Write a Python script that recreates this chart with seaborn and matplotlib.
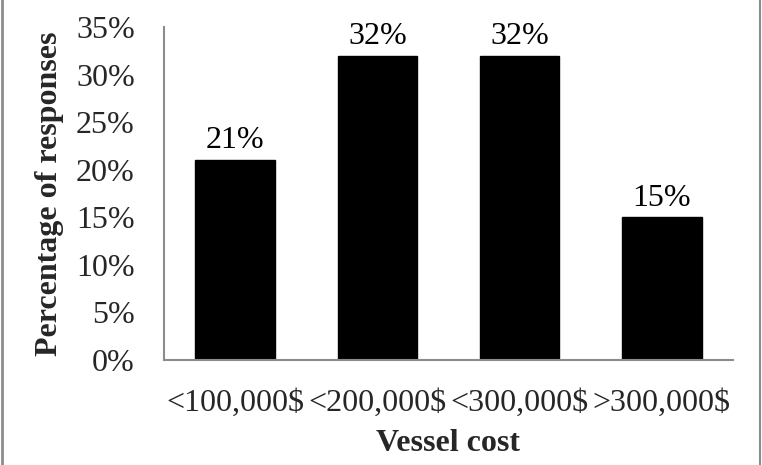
import matplotlib
matplotlib.use("Agg")
import matplotlib.pyplot as plt
import seaborn as sns
import pandas as pd
from matplotlib.lines import Line2D

categories = ["<100,000$", "<200,000$", "<300,000$", ">300,000$"]
values = [0.21, 0.32, 0.32, 0.15]
value_labels = ["21%", "32%", "32%", "15%"]
yticks = [0, 0.05, 0.10, 0.15, 0.20, 0.25, 0.30, 0.35]
ytick_labels = ["0%", "5%", "10%", "15%", "20%", "25%", "30%", "35%"]

sns.set_theme(style="white")
plt.rcParams['font.family'] = ['Liberation Serif', 'DejaVu Serif']

df = pd.DataFrame({"cat": categories, "val": values})

fig = plt.figure(figsize=(7.62, 4.65), dpi=100)
ax = fig.add_axes([164/762, 1 - 360/465, (733-164)/762, (360-27)/465])
sns.barplot(data=df, x="cat", y="val", color="black", width=0.56, ax=ax,
            saturation=1, edgecolor="black")

fs = 23
ax.set_ylim(0, 0.35)
ax.set_yticks(yticks)
ax.set_yticklabels(ytick_labels, fontsize=fs)
ax.set_xticks(range(len(categories)))
ax.set_xticklabels(categories, fontsize=fs)
ax.tick_params(axis='both', length=0)
ax.tick_params(axis='y', pad=21)
ax.tick_params(axis='x', pad=21)

for i, (v, lab) in enumerate(zip(values, value_labels)):
    ax.text(i, v + 0.005, lab, ha="center", va="bottom", fontsize=fs, color="black")

ax.set_xlabel("Vessel cost", fontsize=fs, fontweight="bold", labelpad=8)
ax.set_ylabel("Percentage of responses", fontsize=fs, fontweight="bold", labelpad=9)

for s in ["top", "right"]:
    ax.spines[s].set_visible(False)
for s in ["left", "bottom"]:
    ax.spines[s].set_color("#8c8c8c")
    ax.spines[s].set_linewidth(1.5)

# figure frame
fig.add_artist(Line2D([0.002, 0.002], [0, 1], transform=fig.transFigure, color="#8c8c8c", lw=2))
fig.add_artist(Line2D([0.997, 0.997], [0, 1], transform=fig.transFigure, color="#8c8c8c", lw=1.5))

fig.savefig("out.png", dpi=100)
